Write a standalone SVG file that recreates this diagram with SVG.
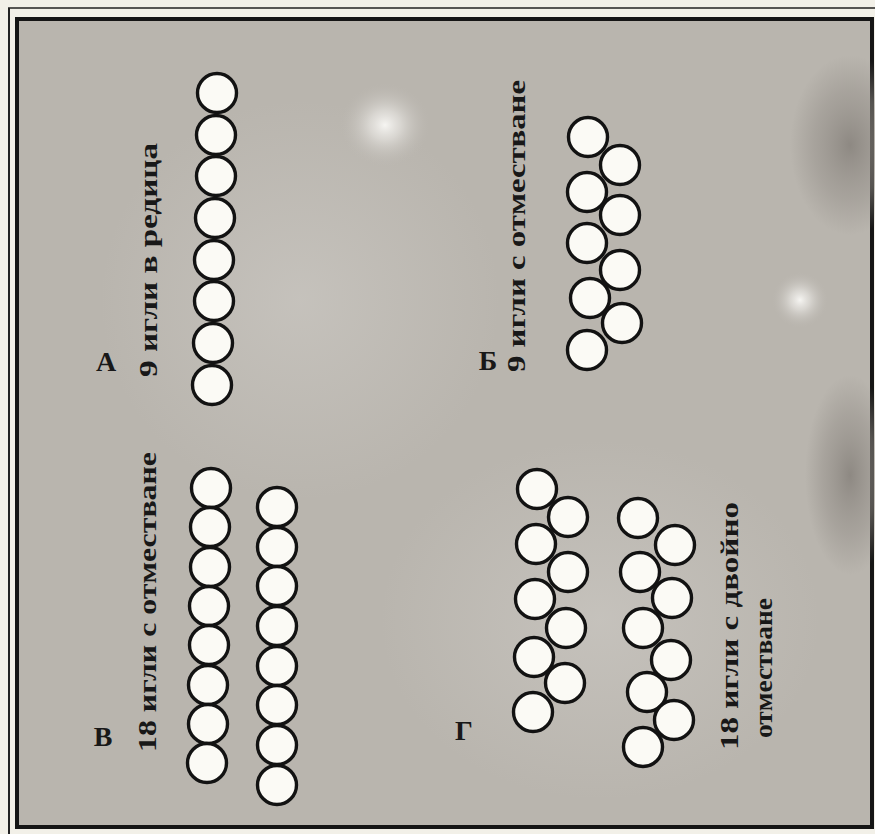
<svg xmlns="http://www.w3.org/2000/svg" width="875" height="834" viewBox="0 0 875 834">
<defs>
<radialGradient id="spot1" cx="0.5" cy="0.5" r="0.5"><stop offset="0" stop-color="#f6f5f2" stop-opacity="1"/><stop offset="0.35" stop-color="#e6e4e0" stop-opacity="0.7"/><stop offset="1" stop-color="#bdb9b3" stop-opacity="0"/></radialGradient>
<radialGradient id="stain" cx="0.5" cy="0.5" r="0.5"><stop offset="0" stop-color="#86817b" stop-opacity="0.85"/><stop offset="0.6" stop-color="#96918b" stop-opacity="0.5"/><stop offset="1" stop-color="#96918b" stop-opacity="0"/></radialGradient>
<radialGradient id="light" cx="0.5" cy="0.5" r="0.5"><stop offset="0" stop-color="#cdcac5" stop-opacity="0.6"/><stop offset="1" stop-color="#cdcac5" stop-opacity="0"/></radialGradient>
</defs>
<style>
.n{fill:#fbfaf5;stroke:#121212;stroke-width:3.4}
.t{font-family:"Liberation Serif","DejaVu Serif",serif;font-weight:bold;font-size:26px;fill:#181818}
.l{font-family:"Liberation Serif","DejaVu Serif",serif;font-weight:bold;font-size:28px;fill:#181818}
</style>
<rect x="0" y="0" width="875" height="834" fill="#f2f0e8"/>
<line x1="9" y1="8" x2="9" y2="834" stroke="#222" stroke-width="2"/>
<line x1="8" y1="8" x2="875" y2="8" stroke="#222" stroke-width="1.5"/>
<rect x="17" y="19" width="855" height="808" fill="#b9b5ae" stroke="#151515" stroke-width="4"/>
<g id="texture">
<ellipse cx="300" cy="300" rx="200" ry="200" fill="url(#light)"/>
<ellipse cx="600" cy="620" rx="220" ry="180" fill="url(#light)"/>
<ellipse cx="385" cy="125" rx="45" ry="42" fill="url(#spot1)"/>
<ellipse cx="800" cy="300" rx="28" ry="28" fill="url(#spot1)"/>
<ellipse cx="850" cy="145" rx="60" ry="90" fill="url(#stain)"/>
<ellipse cx="850" cy="475" rx="45" ry="100" fill="url(#stain)"/>
</g>
<g id="connectors"></g>
<g id="panel-A">
<text class="l" x="106" y="371" text-anchor="middle">А</text>
<text class="t" transform="translate(157,377) rotate(-90)" textLength="234" lengthAdjust="spacingAndGlyphs">9 игли в редица</text>
<circle class="n" cx="217" cy="93" r="19.5"/>
<circle class="n" cx="216" cy="135" r="19.5"/>
<circle class="n" cx="216" cy="176" r="19.5"/>
<circle class="n" cx="215" cy="218" r="19.5"/>
<circle class="n" cx="214" cy="260" r="19.5"/>
<circle class="n" cx="214" cy="301" r="19.5"/>
<circle class="n" cx="213" cy="343" r="19.5"/>
<circle class="n" cx="212" cy="385" r="19.5"/>
</g>
<g id="panel-B">
<text class="l" x="488" y="370" text-anchor="middle">Б</text>
<text class="t" transform="translate(525,372) rotate(-90)" textLength="292" lengthAdjust="spacingAndGlyphs">9 игли с отместване</text>
<circle class="n" cx="588" cy="137" r="19.5"/>
<circle class="n" cx="620" cy="165" r="19.5"/>
<circle class="n" cx="587" cy="192" r="19.5"/>
<circle class="n" cx="620" cy="215" r="19.5"/>
<circle class="n" cx="587" cy="243" r="19.5"/>
<circle class="n" cx="620" cy="270" r="19.5"/>
<circle class="n" cx="590" cy="298" r="19.5"/>
<circle class="n" cx="622" cy="323" r="19.5"/>
<circle class="n" cx="587" cy="350" r="19.5"/>
</g>
<g id="panel-V">
<text class="l" x="103" y="746" text-anchor="middle">В</text>
<text class="t" transform="translate(156,752) rotate(-90)" textLength="300" lengthAdjust="spacingAndGlyphs">18 игли с отместване</text>
<circle class="n" cx="211" cy="488" r="19.5"/>
<circle class="n" cx="210" cy="527" r="19.5"/>
<circle class="n" cx="210" cy="567" r="19.5"/>
<circle class="n" cx="209" cy="606" r="19.5"/>
<circle class="n" cx="209" cy="645" r="19.5"/>
<circle class="n" cx="208" cy="685" r="19.5"/>
<circle class="n" cx="208" cy="724" r="19.5"/>
<circle class="n" cx="207" cy="763" r="19.5"/>
<circle class="n" cx="277" cy="507" r="19.5"/>
<circle class="n" cx="277" cy="547" r="19.5"/>
<circle class="n" cx="277" cy="586" r="19.5"/>
<circle class="n" cx="277" cy="626" r="19.5"/>
<circle class="n" cx="277" cy="666" r="19.5"/>
<circle class="n" cx="277" cy="705" r="19.5"/>
<circle class="n" cx="277" cy="745" r="19.5"/>
<circle class="n" cx="277" cy="785" r="19.5"/>
</g>
<g id="panel-G">
<text class="l" x="464" y="740" text-anchor="middle">Г</text>
<text class="t" transform="translate(738,750) rotate(-90)" textLength="248" lengthAdjust="spacingAndGlyphs">18 игли с двойно</text>
<text class="t" transform="translate(772,738) rotate(-90)" textLength="140" lengthAdjust="spacingAndGlyphs">отместване</text>
<circle class="n" cx="537" cy="489" r="19.5"/>
<circle class="n" cx="568" cy="517" r="19.5"/>
<circle class="n" cx="536" cy="544" r="19.5"/>
<circle class="n" cx="568" cy="572" r="19.5"/>
<circle class="n" cx="535" cy="599" r="19.5"/>
<circle class="n" cx="566" cy="628" r="19.5"/>
<circle class="n" cx="534" cy="657" r="19.5"/>
<circle class="n" cx="565" cy="683" r="19.5"/>
<circle class="n" cx="533" cy="712" r="19.5"/>
<circle class="n" cx="638" cy="518" r="19.5"/>
<circle class="n" cx="675" cy="545" r="19.5"/>
<circle class="n" cx="640" cy="572" r="19.5"/>
<circle class="n" cx="672" cy="598" r="19.5"/>
<circle class="n" cx="643" cy="628" r="19.5"/>
<circle class="n" cx="671" cy="660" r="19.5"/>
<circle class="n" cx="647" cy="692" r="19.5"/>
<circle class="n" cx="674" cy="720" r="19.5"/>
<circle class="n" cx="643" cy="747" r="19.5"/>
</g>
</svg>
